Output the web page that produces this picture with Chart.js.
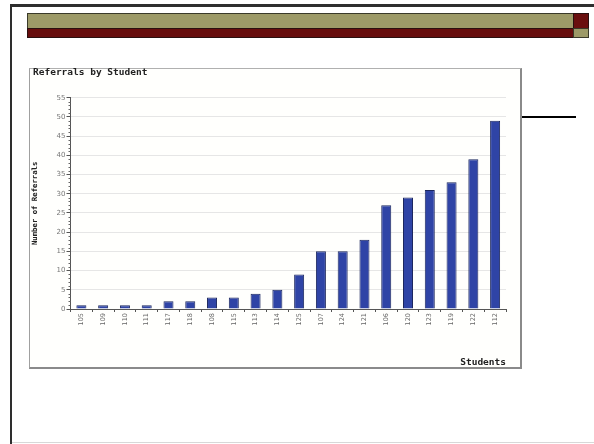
<!DOCTYPE html>
<html>
<head>
<meta charset="utf-8">
<script src="https://cdn.jsdelivr.net/npm/chart.js@4/dist/chart.umd.min.js"></script>
<style>
  html, body { margin: 0; padding: 0; background: #ffffff; }
  body { width: 594px; height: 444px; position: relative; overflow: hidden; }
  .abs { position: absolute; box-sizing: border-box; }
</style>
</head>
<body>
<!-- slide frame -->
<div class="abs" style="left:10px; top:4px; width:584px; height:3px; background:#2e2e2e;"></div>
<div class="abs" style="left:10px; top:4px; width:2px; height:440px; background:#2e2e2e;"></div>
<div class="abs" style="left:12px; top:442px; width:582px; height:1px; background:#d8d8d8;"></div>
<!-- header bands -->
<div class="abs" style="left:27px; top:13px; width:547px; height:16px; background:#9d9a68; border:1px solid #3a3a2a;"></div>
<div class="abs" style="left:573px; top:13px; width:16px; height:16px; background:#6a0f0f; border:1px solid #2a1010;"></div>
<div class="abs" style="left:27px; top:28px; width:547px; height:10px; background:#670d0d; border:1px solid #2a1010;"></div>
<div class="abs" style="left:573px; top:28px; width:16px; height:10px; background:#9d9a68; border:1px solid #3a3a2a;"></div>
<!-- chart box -->
<div class="abs" style="left:29px; top:68px; width:493px; height:301px; border-top:1px solid #b0b0b0; border-left:1px solid #a0a0a0; border-right:2px solid #8a8a8a; border-bottom:2px solid #8a8a8a; background:#fffffd;"></div>
<div class="abs" style="left:522px; top:116px; width:54px; height:1.5px; background:#000;"></div>
<div class="abs" style="left:29px; top:68px; width:492px; height:300px;">
  <canvas id="c" width="492" height="300"></canvas>
</div>
<script>
const chartTitle = 'Referrals by Student';
const students = ['105','109','110','111','117','118','108','115','113','114','125','107','124','121','106','120','123','119','122','112'];
const referrals = [1,1,1,1,2,2,3,3,4,5,9,15,15,18,27,29,31,33,39,49];
const yTicks = [0,5,10,15,20,25,30,35,40,45,50,55];

const decorations = {
  id: 'decorations',
  afterDraw(chart) {
    const y = chart.scales.y;
    const ctx = chart.ctx;
    ctx.save();
    // minor ticks on the value axis
    ctx.strokeStyle = '#666';
    ctx.lineWidth = 1;
    for (let v = 0; v <= yTicks[yTicks.length - 1]; v++) {
      if (v % 5 === 0) continue;
      const py = Math.round(y.getPixelForValue(v)) + 0.5;
      ctx.beginPath();
      ctx.moveTo(y.right - 2, py);
      ctx.lineTo(y.right, py);
      ctx.stroke();
    }
    // chart title, top-left
    ctx.fillStyle = '#222';
    ctx.font = 'bold 9.5px "DejaVu Sans Mono"';
    ctx.textBaseline = 'middle';
    ctx.textAlign = 'left';
    ctx.fillText(chartTitle, 4, 4.5);
    ctx.restore();
  }
};

new Chart(document.getElementById('c'), {
  type: 'bar',
  data: {
    labels: students,
    datasets: [{
      data: referrals,
      backgroundColor: '#2f44a6',
      borderColor: '#1c275e',
      borderWidth: 1,
      categoryPercentage: 1,
      barPercentage: 0.46
    }]
  },
  options: {
    responsive: false,
    animation: false,
    devicePixelRatio: 1,
    layout: { padding: { left: 0, right: 15, top: 29.7, bottom: 0 } },
    plugins: {
      legend: { display: false },
      tooltip: { enabled: false },
      title: { display: false }
    },
    scales: {
      x: {
        offset: true,
        grid: { display: true, drawOnChartArea: false, offset: true, tickLength: 3, tickColor: '#555' },
        border: { display: true, color: '#555' },
        ticks: {
          autoSkip: false, maxRotation: 90, minRotation: 90, padding: 1,
          color: '#666', font: { family: 'DejaVu Sans', size: 6.5 }
        },
        title: {
          display: true, text: 'Students', align: 'end', color: '#222',
          font: { family: 'DejaVu Sans Mono', size: 9.5, weight: 'bold' },
          padding: { top: 0, bottom: 0 }
        },
        afterFit(s) { s.height = 59; }
      },
      y: {
        min: 0, max: 55,
        afterBuildTicks(s) { s.ticks = yTicks.map(v => ({ value: v })); },
        grid: { color: '#e6e6e6', tickLength: 4, tickColor: '#555' },
        border: { display: true, color: '#555' },
        ticks: { padding: 1, color: '#777', font: { family: 'DejaVu Sans', size: 7 } },
        title: {
          display: true, text: 'Number of Referrals', color: '#222',
          font: { family: 'DejaVu Sans Mono', size: 7.3, weight: 'bold' },
          padding: { top: 2, bottom: 0 }
        },
        afterFit(s) { s.width = 41.5; }
      }
    }
  },
  plugins: [decorations]
});
</script>
</body>
</html>
